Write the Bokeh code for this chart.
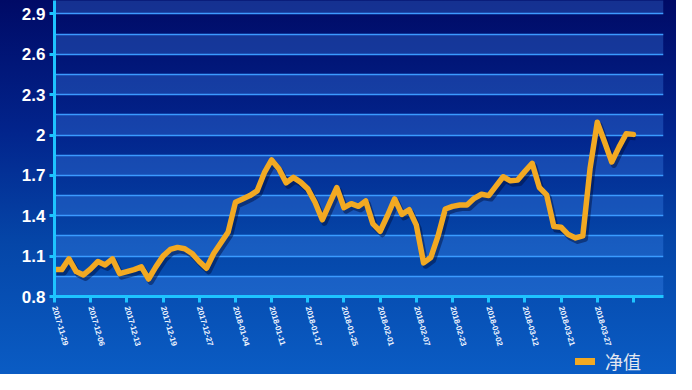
from bokeh.plotting import figure
from bokeh.layouts import column
from bokeh.models import (Range1d, FixedTicker, NumeralTickFormatter, Grid,
                          Legend, LegendItem, ColumnDataSource)
from bokeh.transform import dodge
from bokeh.embed import file_html
from bokeh.resources import INLINE

# ---- data ----
nav_values = [
    1.00, 1.00, 1.08, 0.985, 0.96, 1.005, 1.06, 1.035, 1.08, 0.97,
    0.985, 1.00, 1.02, 0.93, 1.02, 1.10, 1.15, 1.165, 1.155, 1.12,
    1.06, 1.01, 1.12, 1.20, 1.28, 1.50, 1.525, 1.55, 1.585, 1.72,
    1.815, 1.75, 1.645, 1.685, 1.65, 1.60, 1.50, 1.37, 1.49, 1.61,
    1.46, 1.49, 1.47, 1.51, 1.34, 1.285, 1.40, 1.525, 1.41, 1.445,
    1.33, 1.05, 1.09, 1.25, 1.45, 1.47, 1.48, 1.48, 1.53, 1.56,
    1.55, 1.62, 1.69, 1.66, 1.665, 1.73, 1.79, 1.61, 1.555, 1.32,
    1.315, 1.26, 1.235, 1.25, 1.75, 2.095, 1.95, 1.80, 1.91, 2.01,
    2.005,
]
x_index = list(range(len(nav_values)))

x_tick_positions = [0, 5, 10, 15, 20, 25, 30, 35, 40, 45, 50, 55, 60, 65, 70, 75, 80]
x_tick_labels = ["2017-11-29", "2017-12-06", "2017-12-13", "2017-12-19", "2017-12-27",
                 "2018-01-04", "2018-01-11", "2018-01-17", "2018-01-25", "2018-02-01",
                 "2018-02-07", "2018-02-23", "2018-03-02", "2018-03-12", "2018-03-21",
                 "2018-03-27", ""]
y_ticks = [0.8, 1.1, 1.4, 1.7, 2.0, 2.3, 2.6, 2.9]
y_min, y_max = 0.8, 3.0
y_step_minor = 0.15
series_name = "净值"

LINE_COLOR = "#f2a922"
src = ColumnDataSource(dict(x=x_index, y=nav_values))

p = figure(width=676, height=350, output_backend="svg", toolbar_location=None,
           x_range=Range1d(0, 84.15), y_range=Range1d(y_min, y_max),
           min_border_left=54, min_border_right=13, min_border_top=0,
           min_border_bottom=53)
p.background_fill_color = None
p.border_fill_color = None
p.outline_line_color = None

# grid lines (every 0.15) plus top edge
line_ticks = [round(y_min + y_step_minor * k, 2) for k in range(15)] + [y_max]
p.xgrid.visible = False
p.ygrid.ticker = FixedTicker(ticks=line_ticks)
p.ygrid.grid_line_color = "#3a9cff"
p.ygrid.grid_line_width = 1.5

# alternating bands: lowest band (0.8-0.95) filled -> duplicate first tick to shift parity
band_ticks = [y_min] + [round(y_min + y_step_minor * k, 2) for k in range(16)]
band_grid = Grid(dimension=1, ticker=FixedTicker(ticks=band_ticks),
                 grid_line_color=None, band_fill_color="#4a98ff", band_fill_alpha=0.28)
p.add_layout(band_grid, "center")

# axes
for ax in (p.xaxis[0], p.yaxis[0]):
    ax.axis_line_color = "#1ec4ff"
    ax.axis_line_width = 3
    ax.major_tick_line_color = "#1ec4ff"
    ax.major_tick_line_width = 3
    ax.major_tick_out = 6
    ax.major_tick_in = 0
    ax.minor_tick_line_color = None

p.yaxis.ticker = FixedTicker(ticks=y_ticks)
p.yaxis.formatter = NumeralTickFormatter(format="0.[0]")
p.yaxis.major_label_text_color = "white"
p.yaxis.major_label_text_font = "Liberation Sans"
p.yaxis.major_label_text_font_style = "bold"
p.yaxis.major_label_text_font_size = "17px"
p.yaxis.major_label_standoff = 4
p.yaxis.major_tick_out = 5

p.xaxis.ticker = FixedTicker(ticks=x_tick_positions)
p.xaxis.major_label_overrides = {pos: lab for pos, lab in zip(x_tick_positions, x_tick_labels)}
p.xaxis.major_label_orientation = -1.29
p.xaxis.major_label_text_color = "#eef4ff"
p.xaxis.major_label_text_font = "Liberation Sans"
p.xaxis.major_label_text_font_style = "bold"
p.xaxis.major_label_text_font_size = "8px"
p.xaxis.major_label_standoff = 4

# shadow + line
p.line(x=dodge("x", 0.3), y=dodge("y", -0.022), source=src,
       line_color="#000a33", line_alpha=0.45, line_width=6, line_join="round")
p.line(x="x", y="y", source=src, line_color=LINE_COLOR, line_width=5.5,
       line_join="round", line_cap="round")

# legend strip below the chart (its frame is aligned with the main frame);
# the key renderer shares the data but its view range keeps it off-screen
leg = figure(width=676, height=24, output_backend="svg", toolbar_location=None,
             x_range=Range1d(0, 1), y_range=Range1d(10, 11),
             x_axis_location=None, y_axis_location=None,
             min_border=0)
leg.background_fill_color = None
leg.border_fill_color = None
leg.outline_line_color = None
leg.grid.visible = False
key = leg.line(x="x", y="y", source=src, line_color=LINE_COLOR, line_width=7,
               line_cap="round")
legend = Legend(items=[LegendItem(label=series_name, renderers=[key])],
                location=(521, 0), background_fill_alpha=0, border_line_color=None,
                label_text_color="#e4e8f0", label_text_font="Noto Sans CJK SC",
                label_text_font_size="18px", glyph_width=20, glyph_height=24,
                label_height=24, padding=0, margin=0, label_standoff=10, spacing=0)
leg.add_layout(legend, "center")

layout = column(p, leg, spacing=0,
                styles={"background": "linear-gradient(to bottom, #000a66 0%, #02248c 35%, #0546a8 65%, #0a5cc4 100%)"})

open("out.html", "w").write(file_html(layout, INLINE))
